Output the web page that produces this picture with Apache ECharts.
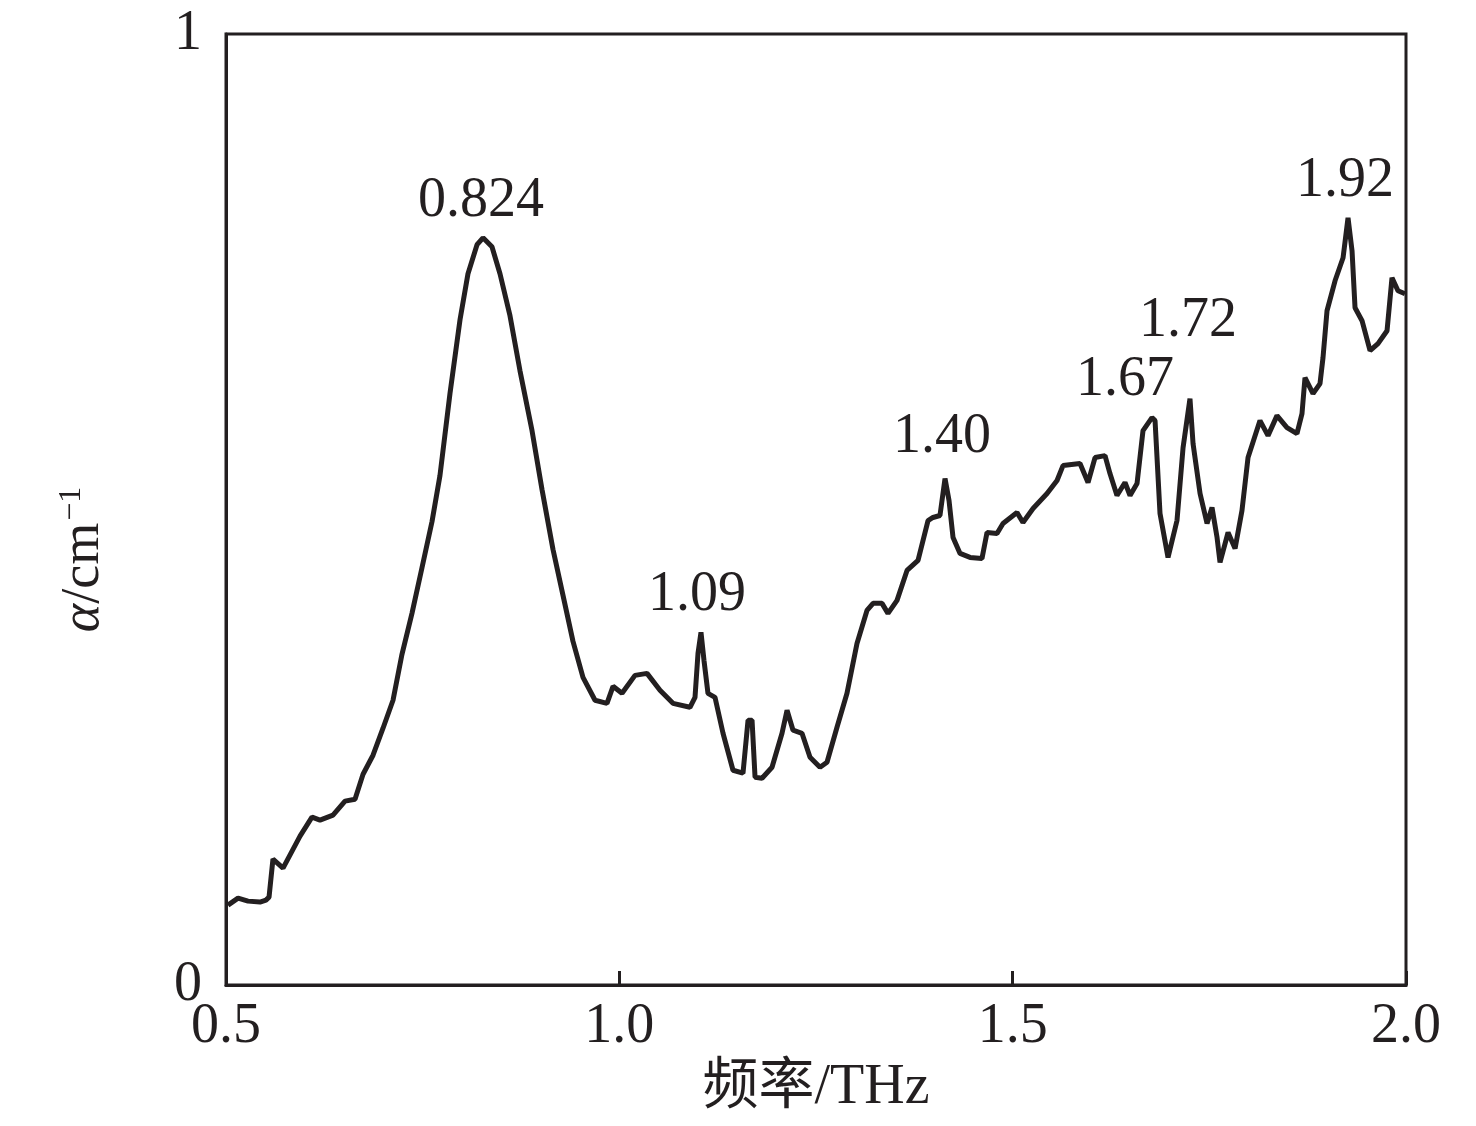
<!DOCTYPE html>
<html>
<head>
<meta charset="utf-8">
<title>吸收系数谱</title>
<script src="https://cdn.jsdelivr.net/npm/echarts@6/dist/echarts.min.js"></script>
<style>
  html, body { margin: 0; padding: 0; background: #fff; }
  #chart { width: 1476px; height: 1126px; }
</style>
</head>
<body>
<div id="chart"></div>
<script>
// 频率 (THz)
const freq = [
  0.5025, 0.5153, 0.5280, 0.5432, 0.5508, 0.5547, 0.5597, 0.5725, 0.5941, 0.6093,
  0.6195, 0.6360, 0.6513, 0.6640, 0.6742, 0.6869, 0.6996, 0.7123, 0.7237, 0.7364,
  0.7492, 0.7619, 0.7720, 0.7847, 0.7975, 0.8076, 0.8191, 0.8267, 0.8381, 0.8483,
  0.8610, 0.8737, 0.8890, 0.9017, 0.9157, 0.9284, 0.9411, 0.9538, 0.9691, 0.9843,
  0.9920, 1.0034, 1.0199, 1.0352, 1.0517, 1.0682, 1.0898, 1.0962, 1.1000, 1.1038,
  1.1076, 1.1127, 1.1216, 1.1318, 1.1445, 1.1572, 1.1636, 1.1687, 1.1725, 1.1814,
  1.1941, 1.2068, 1.2132, 1.2208, 1.2322, 1.2424, 1.2551, 1.2640, 1.2767, 1.2894,
  1.3021, 1.3148, 1.3225, 1.3339, 1.3415, 1.3530, 1.3657, 1.3797, 1.3924, 1.3987,
  1.4076, 1.4140, 1.4191, 1.4242, 1.4331, 1.4458, 1.4610, 1.4674, 1.4801, 1.4877,
  1.5055, 1.5131, 1.5259, 1.5437, 1.5564, 1.5640, 1.5856, 1.5958, 1.6047, 1.6174,
  1.6237, 1.6326, 1.6428, 1.6492, 1.6581, 1.6657, 1.6771, 1.6810, 1.6873, 1.6975,
  1.7089, 1.7166, 1.7254, 1.7293, 1.7382, 1.7471, 1.7534, 1.7598, 1.7636, 1.7738,
  1.7827, 1.7915, 1.7992, 1.8144, 1.8246, 1.8360, 1.8487, 1.8614, 1.8678, 1.8716,
  1.8818, 1.8907, 1.8945, 1.8996, 1.9098, 1.9200, 1.9263, 1.9314, 1.9352, 1.9441,
  1.9543, 1.9644, 1.9759, 1.9822, 1.9898, 1.9987
]
// 吸收系数 α (cm^-1)
const alpha = [
  0.0840, 0.0914, 0.0882, 0.0872, 0.0893, 0.0924, 0.1324, 0.1229, 0.1565, 0.1765,
  0.1733, 0.1786, 0.1933, 0.1954, 0.2216, 0.2416, 0.2700, 0.2994, 0.3477, 0.3908,
  0.4391, 0.4874, 0.5357, 0.6218, 0.6996, 0.7479, 0.7784, 0.7857, 0.7763, 0.7479,
  0.7038, 0.6460, 0.5830, 0.5210, 0.4580, 0.4097, 0.3613, 0.3235, 0.2994, 0.2962,
  0.3141, 0.3067, 0.3256, 0.3277, 0.3099, 0.2962, 0.2920, 0.3025, 0.3487, 0.3708,
  0.3414, 0.3067, 0.3025, 0.2647, 0.2258, 0.2227, 0.2784, 0.2784, 0.2185, 0.2174,
  0.2290, 0.2647, 0.2889, 0.2679, 0.2647, 0.2395, 0.2290, 0.2342, 0.2710, 0.3067,
  0.3592, 0.3939, 0.4013, 0.4013, 0.3908, 0.4044, 0.4359, 0.4464, 0.4884, 0.4916,
  0.4937, 0.5326, 0.5095, 0.4706, 0.4538, 0.4496, 0.4485, 0.4758, 0.4748, 0.4853,
  0.4968, 0.4863, 0.5011, 0.5168, 0.5305, 0.5462, 0.5483, 0.5284, 0.5546, 0.5567,
  0.5378, 0.5147, 0.5284, 0.5147, 0.5273, 0.5830, 0.5966, 0.5935, 0.4958, 0.4496,
  0.4884, 0.5651, 0.6166, 0.5693, 0.5168, 0.4853, 0.5021, 0.4706, 0.4443, 0.4758,
  0.4590, 0.4989, 0.5546, 0.5935, 0.5777, 0.5987, 0.5861, 0.5798, 0.6008, 0.6387,
  0.6218, 0.6324, 0.6597, 0.7090, 0.7405, 0.7647, 0.8067, 0.7721, 0.7122, 0.6985,
  0.6670, 0.6744, 0.6880, 0.7437, 0.7300, 0.7269
]
// 峰位标注
const peakLabels = ['0.824', '1.09', '1.40', '1.67', '1.72', '1.92']
const peakFreq = [0.8267, 1.1038, 1.4140, 1.6771, 1.7254, 1.9263]
// 坐标轴刻度
const xTicks = [0.5, 1.0, 1.5, 2.0]
const yTicks = [0, 1]

// 标注文字相对峰顶的偏移（样式）
const labelOffset = [[-2, 0], [-4, 0], [-3, -4], [-27, 0], [-2, -40], [-3, 0]]

const ink = '#231f20'
const serif = "'Liberation Serif', 'Times New Roman', 'Noto Sans CJK SC', serif"

const lineData = freq.map((f, i) => [f, alpha[i]])
const peakData = peakLabels.map((name, i) => {
  const idx = freq.indexOf(peakFreq[i])
  return {
    name: name,
    value: [freq[idx], alpha[idx]],
    label: { offset: labelOffset[i] }
  }
})

const myChart = echarts.init(document.getElementById('chart'))
myChart.setOption({
  backgroundColor: '#ffffff',
  animation: false,
  grid: {
    left: 226,
    right: 70,
    top: 34,
    bottom: 141,
    show: true,
    borderColor: ink,
    borderWidth: 3
  },
  xAxis: {
    type: 'value',
    min: xTicks[0],
    max: xTicks[xTicks.length - 1],
    interval: xTicks[1] - xTicks[0],
    name: '频率/THz',
    nameLocation: 'middle',
    nameGap: 72,
    nameTextStyle: {
      color: ink,
      fontSize: 56,
      fontFamily: serif
    },
    axisLine: { show: true, lineStyle: { color: ink, width: 3 } },
    axisTick: { show: true, inside: true, length: 14, lineStyle: { color: ink, width: 3 } },
    splitLine: { show: false },
    axisLabel: {
      margin: 14,
      color: ink,
      fontSize: 56,
      fontFamily: serif,
      formatter: v => v.toFixed(1)
    }
  },
  yAxis: {
    type: 'value',
    min: yTicks[0],
    max: yTicks[yTicks.length - 1],
    interval: yTicks[1] - yTicks[0],
    name: '{i|α}/cm{s|−1}',
    nameLocation: 'middle',
    nameRotate: 90,
    nameGap: 114,
    nameTextStyle: {
      color: ink,
      fontSize: 54,
      fontFamily: serif,
      padding: [0, 100, 0, 0],
      rich: {
        i: { fontSize: 54, fontStyle: 'italic', fontFamily: serif, color: ink },
        s: { fontSize: 32, fontFamily: serif, color: ink, verticalAlign: 'top', padding: [0, 0, 24, 2] }
      }
    },
    axisLine: { show: true, lineStyle: { color: ink, width: 3 } },
    axisTick: { show: false },
    splitLine: { show: false },
    axisLabel: {
      margin: 24,
      color: ink,
      fontSize: 56,
      fontFamily: serif
    }
  },
  series: [
    {
      name: 'α',
      type: 'line',
      data: lineData,
      showSymbol: false,
      symbol: 'none',
      smooth: false,
      lineStyle: { color: ink, width: 5 },
      z: 3
    },
    {
      name: '峰',
      type: 'scatter',
      data: peakData,
      symbolSize: 2,
      itemStyle: { color: 'rgba(0,0,0,0)', opacity: 1 },
      emphasis: { disabled: true },
      label: {
        show: true,
        position: 'top',
        distance: 8,
        opacity: 1,
        color: ink,
        fontSize: 56,
        fontFamily: serif,
        formatter: p => p.name
      },
      z: 4
    }
  ]
})
</script>
</body>
</html>
